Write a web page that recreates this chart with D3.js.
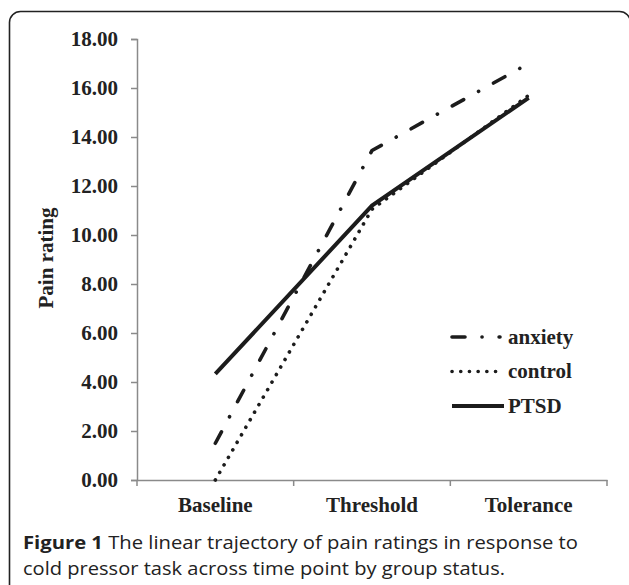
<!DOCTYPE html>
<html>
<head>
<meta charset="utf-8">
<script src="https://cdn.jsdelivr.net/npm/d3@7"></script>
<style>
  body { margin: 0; background: #fff; }
  svg { display: block; }
</style>
</head>
<body>
<div id="chart"></div>
<script>
// chart values
var timePoints = ["Baseline", "Threshold", "Tolerance"];
var anxiety = [1.5, 13.45, 17.0];
var control = [0.0, 11.05, 15.7];
var ptsd = [4.33, 11.2, 15.6];
var yTicks = [0, 2, 4, 6, 8, 10, 12, 14, 16, 18];
var groupNames = ["anxiety", "control", "PTSD"];

var W = 629, H = 585;
var margin = {top: 39, right: 22, bottom: 105, left: 137},
    width = W - margin.left - margin.right,
    height = H - margin.top - margin.bottom;

var svg = d3.select("#chart").append("svg")
    .attr("width", W)
    .attr("height", H);

// outer frame
svg.append("rect")
    .attr("x", 9.5).attr("y", 11.5)
    .attr("width", 621).attr("height", 600)
    .attr("rx", 11)
    .attr("fill", "none")
    .attr("stroke", "#222")
    .attr("stroke-width", 1.6);

var g = svg.append("g")
    .attr("transform", "translate(" + margin.left + "," + margin.top + ")");

var xScale = d3.scaleBand().domain(timePoints).range([0, width]),
    yScale = d3.scaleLinear().domain([0, 18]).range([height, 0]);

var serif = "'Liberation Serif', 'Times New Roman', serif";
var fs = "21px";

// y axis
var yAxis = g.append("g")
    .call(d3.axisLeft(yScale).tickValues(yTicks).tickSize(6).tickSizeOuter(6)
        .tickFormat(function(d) { return d3.format(".2f")(d); }));
yAxis.select(".domain").attr("stroke", "#8a8a8a").attr("stroke-width", 1.5);
yAxis.selectAll(".tick line").attr("stroke", "#8a8a8a").attr("stroke-width", 1.5);
yAxis.selectAll(".tick text")
    .attr("x", -19)
    .style("font-family", serif)
    .style("font-weight", "bold")
    .style("font-size", fs)
    .attr("fill", "#222");

// x axis
var xAxis = g.append("g")
    .attr("transform", "translate(0," + height + ")")
    .call(d3.axisBottom(xScale).tickSize(0).tickSizeOuter(0));
xAxis.select(".domain").attr("stroke", "#8a8a8a").attr("stroke-width", 1.5);
xAxis.selectAll(".tick text")
    .attr("y", 17)
    .style("font-family", serif)
    .style("font-weight", "bold")
    .style("font-size", fs)
    .attr("fill", "#222");
// tick marks at band boundaries
var bounds = timePoints.map(function(d) { return xScale(d); }).concat([width]);
xAxis.selectAll(".bound")
    .data(bounds)
    .enter().append("line")
    .attr("class", "bound")
    .attr("x1", function(d) { return d; })
    .attr("x2", function(d) { return d; })
    .attr("y1", 0).attr("y2", 6)
    .attr("stroke", "#8a8a8a")
    .attr("stroke-width", 1.5);

// y axis title
g.append("text")
    .attr("transform", "translate(" + (46 - margin.left) + "," + (258 - margin.top) + ") rotate(-90)")
    .attr("text-anchor", "middle")
    .attr("dy", "0.35em")
    .style("font-family", serif)
    .style("font-weight", "bold")
    .style("font-size", fs)
    .attr("fill", "#222")
    .text("Pain rating");

var series = [
    {name: groupNames[0], values: anxiety, dash: "13,17,0.1,17", width: 3.6, key: 48},
    {name: groupNames[1], values: control, dash: "0.1,8.6", width: 3.6, key: 45},
    {name: groupNames[2], values: ptsd, dash: null, width: 4, key: 52}
];

var line = d3.line()
    .x(function(d, i) { return xScale(timePoints[i]) + xScale.bandwidth() / 2; })
    .y(function(d) { return yScale(d); });

// draw control first, then PTSD, anxiety
[series[1], series[2], series[0]].forEach(function(s) {
    g.append("path")
        .datum(s.values)
        .attr("d", line)
        .attr("fill", "none")
        .attr("stroke", "#1c1c1c")
        .attr("stroke-width", s.width)
        .attr("stroke-linecap", s.dash ? "round" : "butt")
        .attr("stroke-dasharray", s.dash);
});

// legend
var legend = svg.append("g").attr("transform", "translate(452,337)");
series.forEach(function(s, i) {
    var row = legend.append("g").attr("transform", "translate(0," + (i * 34.5) + ")");
    row.append("line")
        .attr("x1", 0).attr("x2", s.key)
        .attr("y1", 0).attr("y2", 0)
        .attr("stroke", "#1c1c1c")
        .attr("stroke-width", s.width)
        .attr("stroke-linecap", s.dash ? "round" : "butt")
        .attr("stroke-dasharray", s.dash);
    row.append("text")
        .attr("x", 56)
        .attr("dy", "0.33em")
        .style("font-family", serif)
        .style("font-weight", "bold")
        .style("font-size", fs)
        .attr("fill", "#222")
        .text(s.name);
});

// caption
var caption = svg.append("text")
    .attr("x", 23).attr("y", 549)
    .style("font-family", "'Open Sans', 'Noto Sans', sans-serif")
    .style("font-size", "18px")
    .attr("fill", "#222")
    .attr("textLength", 555)
    .attr("lengthAdjust", "spacingAndGlyphs");
caption.append("tspan").style("font-weight", "bold").text("Figure 1");
caption.append("tspan").text(" The linear trajectory of pain ratings in response to");

svg.append("text")
    .attr("x", 23).attr("y", 575)
    .style("font-family", "'Open Sans', 'Noto Sans', sans-serif")
    .style("font-size", "18px")
    .attr("fill", "#222")
    .attr("textLength", 482)
    .attr("lengthAdjust", "spacingAndGlyphs")
    .text("cold pressor task across time point by group status.");
</script>
</body>
</html>
